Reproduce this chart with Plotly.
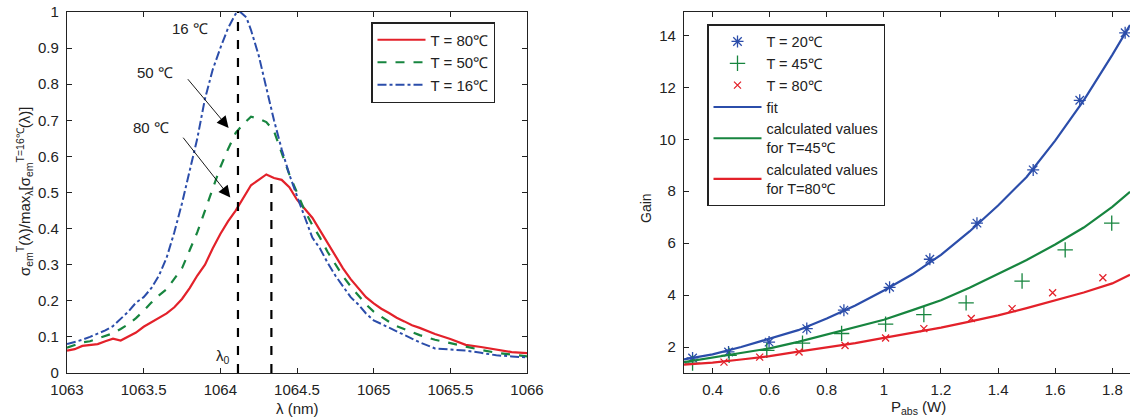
import plotly.graph_objects as go

# ---------------- Left panel data ----------------
lam_red = [1063.00,1063.05,1063.10,1063.15,1063.20,1063.25,1063.30,1063.35,1063.40,1063.45,1063.50,1063.55,1063.60,1063.65,1063.70,1063.75,1063.80,1063.85,1063.90,1063.95,1064.00,1064.05,1064.10,1064.15,1064.20,1064.25,1064.30,1064.35,1064.40,1064.45,1064.50,1064.55,1064.60,1064.65,1064.70,1064.75,1064.80,1064.85,1064.90,1064.95,1065.00,1065.05,1065.10,1065.15,1065.20,1065.25,1065.30,1065.40,1065.50,1065.60,1065.70,1065.80,1065.90,1066.00]
sig_red = [0.062,0.066,0.075,0.078,0.080,0.088,0.095,0.090,0.100,0.112,0.128,0.140,0.152,0.165,0.182,0.205,0.235,0.270,0.300,0.345,0.385,0.420,0.450,0.485,0.520,0.535,0.550,0.540,0.535,0.515,0.480,0.455,0.430,0.395,0.360,0.325,0.290,0.260,0.235,0.210,0.193,0.178,0.166,0.153,0.143,0.132,0.125,0.108,0.094,0.078,0.072,0.064,0.058,0.055]

lam_grn = [1063.00,1063.05,1063.10,1063.15,1063.20,1063.25,1063.30,1063.35,1063.40,1063.45,1063.50,1063.55,1063.60,1063.65,1063.70,1063.75,1063.80,1063.85,1063.90,1063.95,1064.00,1064.05,1064.10,1064.15,1064.20,1064.25,1064.30,1064.35,1064.40,1064.45,1064.50,1064.55,1064.60,1064.65,1064.70,1064.75,1064.80,1064.85,1064.90,1064.95,1065.00,1065.05,1065.10,1065.15,1065.20,1065.30,1065.40,1065.50,1065.60,1065.70,1065.80,1065.90,1066.00]
sig_grn = [0.070,0.078,0.085,0.088,0.095,0.103,0.110,0.122,0.135,0.152,0.172,0.195,0.215,0.232,0.260,0.290,0.340,0.390,0.450,0.510,0.570,0.620,0.665,0.690,0.710,0.705,0.695,0.670,0.610,0.550,0.500,0.450,0.410,0.375,0.335,0.300,0.268,0.240,0.215,0.190,0.170,0.155,0.142,0.130,0.121,0.105,0.092,0.082,0.072,0.064,0.056,0.050,0.046]

lam_blu = [1063.00,1063.05,1063.10,1063.15,1063.20,1063.25,1063.30,1063.35,1063.40,1063.45,1063.50,1063.55,1063.60,1063.65,1063.70,1063.75,1063.80,1063.85,1063.90,1063.95,1064.00,1064.05,1064.10,1064.13,1064.17,1064.20,1064.25,1064.30,1064.35,1064.40,1064.45,1064.50,1064.55,1064.60,1064.65,1064.70,1064.75,1064.80,1064.85,1064.90,1064.95,1065.00,1065.10,1065.20,1065.30,1065.40,1065.50,1065.60,1065.70,1065.80,1065.90,1066.00]
sig_blu = [0.080,0.085,0.092,0.100,0.108,0.118,0.130,0.150,0.170,0.195,0.210,0.235,0.270,0.320,0.390,0.470,0.560,0.650,0.760,0.840,0.900,0.955,0.995,1.000,0.985,0.950,0.880,0.790,0.700,0.620,0.550,0.490,0.435,0.375,0.345,0.305,0.270,0.240,0.210,0.190,0.165,0.146,0.125,0.105,0.085,0.068,0.066,0.062,0.056,0.049,0.046,0.043]

lam0 = 1064.115
lam_peak80 = 1064.333
vline_heights = [1.0, 0.545]

# ---------------- Right panel data ----------------
p_20 = [0.330,0.456,0.598,0.730,0.860,1.020,1.161,1.326,1.523,1.686,1.845]
g_20 = [1.58,1.81,2.19,2.71,3.42,4.30,5.38,6.77,8.82,11.50,14.10]
p_45 = [0.330,0.458,0.590,0.715,0.852,1.006,1.140,1.288,1.484,1.635,1.798]
g_45 = [1.38,1.68,1.87,2.15,2.52,2.88,3.25,3.70,4.54,5.74,6.77]
p_80 = [0.440,0.565,0.703,0.864,1.006,1.140,1.306,1.449,1.591,1.767]
g_80 = [1.42,1.61,1.81,2.06,2.35,2.71,3.10,3.48,4.09,4.67]

p_curve = [0.30,0.40,0.50,0.60,0.70,0.80,0.90,1.00,1.10,1.20,1.30,1.40,1.50,1.60,1.70,1.80,1.862]
fit_20 = [1.52,1.72,2.00,2.32,2.65,3.10,3.60,4.18,4.80,5.55,6.45,7.45,8.55,9.95,11.50,13.25,14.40]
calc_45 = [1.42,1.60,1.76,1.95,2.20,2.48,2.75,3.05,3.42,3.80,4.28,4.80,5.35,5.95,6.60,7.40,7.98]
calc_80 = [1.32,1.40,1.52,1.65,1.82,1.98,2.15,2.35,2.55,2.75,2.98,3.22,3.50,3.80,4.10,4.45,4.78]

RED = "#E3212A"
GRN = "#17853F"
BLU = "#2B4DAA"
TXT = "#222222"
FONT = "Liberation Sans, Arial, sans-serif"

fig = go.Figure()

# left panel curves
fig.add_trace(go.Scatter(x=lam_red, y=sig_red, mode="lines", name="T = 80℃",
                         line=dict(color=RED, width=2.2), xaxis="x", yaxis="y", legend="legend"))
fig.add_trace(go.Scatter(x=lam_grn, y=sig_grn, mode="lines", name="T = 50℃",
                         line=dict(color=GRN, width=2.2, dash="dash"), xaxis="x", yaxis="y", legend="legend"))
fig.add_trace(go.Scatter(x=lam_blu, y=sig_blu, mode="lines", name="T = 16℃",
                         line=dict(color=BLU, width=2, dash="dashdot"), xaxis="x", yaxis="y", legend="legend"))
for xv, hv in zip([lam0, lam_peak80], vline_heights):
    fig.add_trace(go.Scatter(x=[xv, xv], y=[0, hv], mode="lines", showlegend=False,
                             line=dict(color="black", width=2.2, dash="dash"), xaxis="x", yaxis="y"))

# right panel
fig.add_trace(go.Scatter(x=p_20, y=g_20, mode="markers", name="T = 20℃",
                         marker=dict(symbol="asterisk-open", size=10, color=BLU, line=dict(color=BLU, width=1.3)),
                         xaxis="x2", yaxis="y2", legend="legend2"))
fig.add_trace(go.Scatter(x=p_45, y=g_45, mode="markers", name="T = 45℃",
                         marker=dict(symbol="cross-thin-open", size=11, color=GRN, line=dict(color=GRN, width=1.3)),
                         xaxis="x2", yaxis="y2", legend="legend2"))
fig.add_trace(go.Scatter(x=p_80, y=g_80, mode="markers", name="T = 80℃",
                         marker=dict(symbol="x-thin-open", size=7, color=RED, line=dict(color=RED, width=1.3)),
                         xaxis="x2", yaxis="y2", legend="legend2"))
fig.add_trace(go.Scatter(x=p_curve, y=fit_20, mode="lines", name="fit",
                         line=dict(color=BLU, width=2.2), xaxis="x2", yaxis="y2", legend="legend2"))
fig.add_trace(go.Scatter(x=p_curve, y=calc_45, mode="lines", name="calculated values<br>for T=45℃",
                         line=dict(color=GRN, width=2.2), xaxis="x2", yaxis="y2", legend="legend2"))
fig.add_trace(go.Scatter(x=p_curve, y=calc_80, mode="lines", name="calculated values<br>for T=80℃",
                         line=dict(color=RED, width=2.2), xaxis="x2", yaxis="y2", legend="legend2"))

axis_common = dict(showgrid=False, zeroline=False, showline=True, linecolor="#222", linewidth=1.2,
                   ticks="inside", ticklen=5, tickcolor="#222", tickwidth=1, automargin=False,
                   tickfont=dict(family=FONT, size=15, color=TXT))

fig.update_layout(
    width=1130, height=417,
    margin=dict(l=0, r=0, t=0, b=0, pad=0, autoexpand=False),
    paper_bgcolor="white", plot_bgcolor="white",
    font=dict(family=FONT, color=TXT),
    xaxis=dict(domain=[67/1130, 527/1130], range=[1063, 1066], tickvals=[1063,1063.5,1064,1064.5,1065,1065.5,1066],
               ticktext=["1063","1063.5","1064","1064.5","1065","1065.5","1066"], mirror="ticks", anchor="y",
               ticklabelstandoff=3, **axis_common),
    yaxis=dict(domain=[1-373/417, 1-12/417], range=[0, 1], tickvals=[0,0.1,0.2,0.3,0.4,0.5,0.6,0.7,0.8,0.9,1],
               ticktext=["0","0.1","0.2","0.3","0.4","0.5","0.6","0.7","0.8","0.9","1"], mirror="ticks", anchor="x",
               ticklabelstandoff=4, **axis_common),
    xaxis2=dict(domain=[684/1130, 1.0], range=[0.3, 1.862], tickvals=[0.4,0.6,0.8,1.0,1.2,1.4,1.6,1.8],
                ticktext=["0.4","0.6","0.8","1","1.2","1.4","1.6","1.8"], mirror="ticks", anchor="y2",
                ticklabelstandoff=3, **axis_common),
    yaxis2=dict(domain=[1-373/417, 1-12/417], range=[1.0, 14.9], tickvals=[2,4,6,8,10,12,14],
                anchor="x2", ticklabelstandoff=4, **axis_common),
    legend=dict(x=371/1130, y=1-22/417, xanchor="left", yanchor="top", bgcolor="white",
                bordercolor="#222", borderwidth=1.5, font=dict(family=FONT, size=15, color=TXT),
                tracegroupgap=0, itemwidth=48),
    legend2=dict(x=707/1130, y=1-24/417, xanchor="left", yanchor="top", bgcolor="white",
                 bordercolor="#222", borderwidth=1.5, font=dict(family=FONT, size=14.5, color=TXT),
                 tracegroupgap=0, itemwidth=48),
)

ann = []
# axis titles
ann.append(dict(text="λ (nm)", x=(67+527)/2/1130, y=1-408/417, xref="paper", yref="paper", showarrow=False,
                xanchor="center", yanchor="middle", font=dict(size=15, color=TXT)))
ann.append(dict(text="σ<sub>em</sub><sup>T</sup>(λ)/max<sub>λ</sub>[σ<sub>em</sub><sup>T=16℃</sup>(λ)]",
                x=24/1130, y=1-192/417, xref="paper", yref="paper", showarrow=False, textangle=-90,
                xanchor="center", yanchor="middle", font=dict(size=15, color=TXT)))
ann.append(dict(text="P<sub>abs</sub> (W)", x=918/1130, y=1-407/417, xref="paper", yref="paper", showarrow=False,
                xanchor="center", yanchor="middle", font=dict(size=15, color=TXT)))
ann.append(dict(text="Gain", x=646/1130, y=1-208/417, xref="paper", yref="paper", showarrow=False, textangle=-90,
                xanchor="center", yanchor="middle", font=dict(size=14, color=TXT)))
# in-plot labels
ann.append(dict(text="16 ℃", x=1063.80, y=0.954, xref="x", yref="y", showarrow=False, font=dict(size=15, color=TXT)))
ann.append(dict(text="50 ℃", x=1063.575, y=0.832, xref="x", yref="y", showarrow=False, font=dict(size=15, color=TXT)))
ann.append(dict(text="80 ℃", x=1063.55, y=0.679, xref="x", yref="y", showarrow=False, font=dict(size=15, color=TXT)))
ann.append(dict(text="λ<sub>0</sub>", x=1064.02, y=0.045, xref="x", yref="y", showarrow=False, font=dict(size=15, color=TXT)))
ann.append(dict(text="", x=1064.054, y=0.679, ax=1063.78, ay=0.818, xref="x", yref="y", axref="x", ayref="y",
                showarrow=True, arrowhead=2, arrowsize=2.6, arrowwidth=0.9, arrowcolor="black"))
ann.append(dict(text="", x=1064.065, y=0.486, ax=1063.75, ay=0.656, xref="x", yref="y", axref="x", ayref="y",
                showarrow=True, arrowhead=2, arrowsize=2.6, arrowwidth=0.9, arrowcolor="black"))
fig.update_layout(annotations=ann)

fig.write_html("out.html")
